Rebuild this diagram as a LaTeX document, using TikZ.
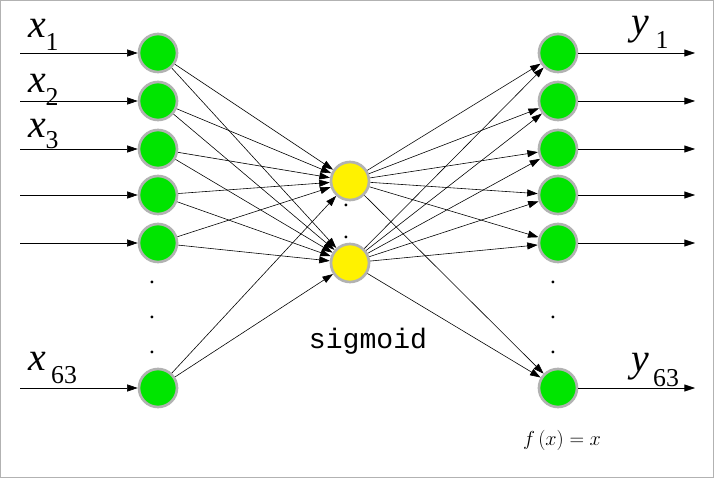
\documentclass[tikz,border=0pt]{standalone}
\usepackage{fontspec}
\setmainfont{Liberation Serif}
\newfontfamily\monof{Liberation Mono}
\usetikzlibrary{arrows.meta}
\begin{document}
\begin{tikzpicture}[x=0.03cm,y=-0.03cm,
  neu/.style={circle,minimum size=0.03cm*38,inner sep=0pt,draw=gray!60,line width=0.08cm},
  gn/.style={neu,fill=green!90!black!100},
  yn/.style={neu,fill=yellow},
  con/.style={-{Triangle[length=9pt,width=6pt]},line width=0.5pt},
  lab/.style={font=\itshape\fontsize{34}{34}\selectfont},
  sub/.style={font=\fontsize{22}{22}\selectfont},
  dot/.style={font=\fontsize{20}{20}\selectfont,inner sep=0}]
\draw[gray!60,line width=0.8pt,fill=white] (0.5,0.5) rectangle (713.5,477.5);
\useasboundingbox (0,0) rectangle (714,478);
\foreach \n/\y in {1/53,2/101,3/149,4/195,5/243,6/388}{
  \node[gn] (l\n) at (158,\y) {};
  \node[gn] (r\n) at (558,\y) {};
  \coordinate (in\n) at (20,\y);
  \coordinate (out\n) at (695,\y);
  \draw[con] (in\n) -- (l\n);
  \draw[con] (r\n) -- (out\n);
}
\node[yn] (m1) at (350,181) {};
\node[yn] (m2) at (350,263) {};
\foreach \n in {1,...,6}{
  \foreach \m in {1,2}{
    \draw[con] (l\n) -- (m\m);
    \draw[con] (m\m) -- (r\n);
  }
}
\foreach \yy in {282,317,352}{
  \node[dot] (dl\yy) at (152,\yy) {.};
  \node[dot] (dr\yy) at (553,\yy) {.};
}
\node[dot] (dm1) at (346,205) {.};
\node[dot] (dm2) at (346,237) {.};
\node[lab] (x1) at (37,28) {x};\node[sub] (s1) at (52,42) {1};
\node[lab] (x2) at (37,83) {x};\node[sub] (s2) at (52,97) {2};
\node[lab] (x3) at (37,128) {x};\node[sub] (s3) at (52,140) {3};
\node[lab] (x63) at (37,361) {x};\node[sub] (s63) at (64,375) {63};
\node[lab] (y1) at (640,30) {y};\node[sub] (t1) at (662,40) {1};
\node[lab] (y63) at (640,367) {y};\node[sub] (t63) at (666,378) {63};
\node[font=\monof\fontsize{24}{24}\selectfont] (sg) at (368,341) {sigmoid};
\node[font=\fontsize{19}{19}\selectfont] (fx) at (562,440) {$f\left(x\right)=x$};
\end{tikzpicture}
\end{document}
